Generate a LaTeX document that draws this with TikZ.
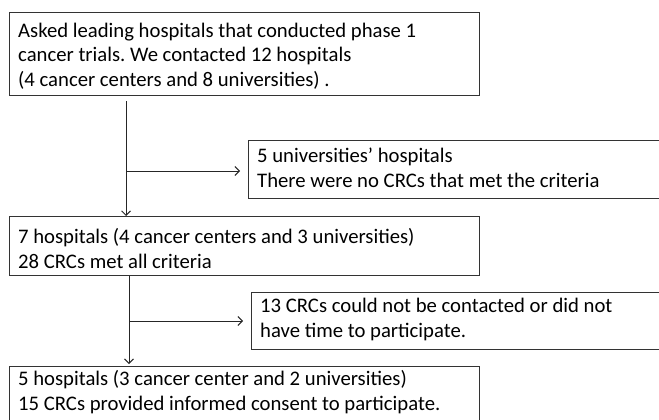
\documentclass[tikz,border=0pt]{standalone}
\usepackage{fontspec}
\setmainfont{Carlito}
\usepackage{tikz}
\usetikzlibrary{arrows.meta}
\frenchspacing

\begin{document}
\begin{tikzpicture}[x=1pt,y=-1pt,
        box/.style={draw=black!80, line width=1.1pt, anchor=north west, inner sep=0pt},
        txt/.style={anchor=base west, align=left, inner sep=0pt, font=\fontsize{20.7}{24.5}\selectfont},
        link/.style={draw=black!85, line width=0.9pt},
        >={Straight Barb[length=4.5pt,width=9pt]}]
        \useasboundingbox (0,0) rectangle (659,420);

        % Coordinates
        \coordinate (trunkA) at (126,0);
        \coordinate (trunkB) at (129,0);
        \coordinate (forkA) at (126,171);
        \coordinate (forkB) at (129,321);

        % Boxes
        \node[box, minimum width=470, minimum height=83] (asked) at (9,12) {};
        \node[box, minimum width=450, minimum height=58] (noCRC) at (248,140) {};
        \node[box, minimum width=470, minimum height=59] (seven) at (9,216) {};
        \node[box, minimum width=450, minimum height=57] (noTime) at (251,292) {};
        \node[box, minimum width=470, minimum height=70] (five) at (9,366) {};

        % Texts (anchored at the last baseline)
        \node[txt] (askedTxt) at (18,86) {Asked leading hospitals that conducted phase 1\\
            cancer trials. We contacted 12 hospitals\\
            (4 cancer centers and 8 universities) .};
        \node[txt] (noCRCTxt) at (257,187) {5 universities’ hospitals\\
            There were no CRCs that met the criteria};
        \node[txt] (sevenTxt) at (18,268) {7 hospitals (4 cancer centers and 3 universities)\\
            28 CRCs met all criteria};
        \node[txt] (noTimeTxt) at (260,337) {13 CRCs could not be contacted or did not\\
            have time to participate.};
        \node[txt] (fiveTxt) at (18,410) {5 hospitals (3 cancer center and 2 universities)\\
            15 CRCs provided informed consent to participate.};

        % Drawing
        \draw[link,->] ([yshift=-5pt]asked.south -| trunkA) -- (seven.north -| trunkA);
        \draw[link,->,shorten >=8pt] (forkA) -- (forkA -| noCRC.west);
        \draw[link,->] (seven.south -| trunkB) -- ([yshift=2pt]five.north -| trunkB);
        \draw[link,->,shorten >=8pt] (forkB) -- (forkB -| noTime.west);
\end{tikzpicture}
\end{document}
